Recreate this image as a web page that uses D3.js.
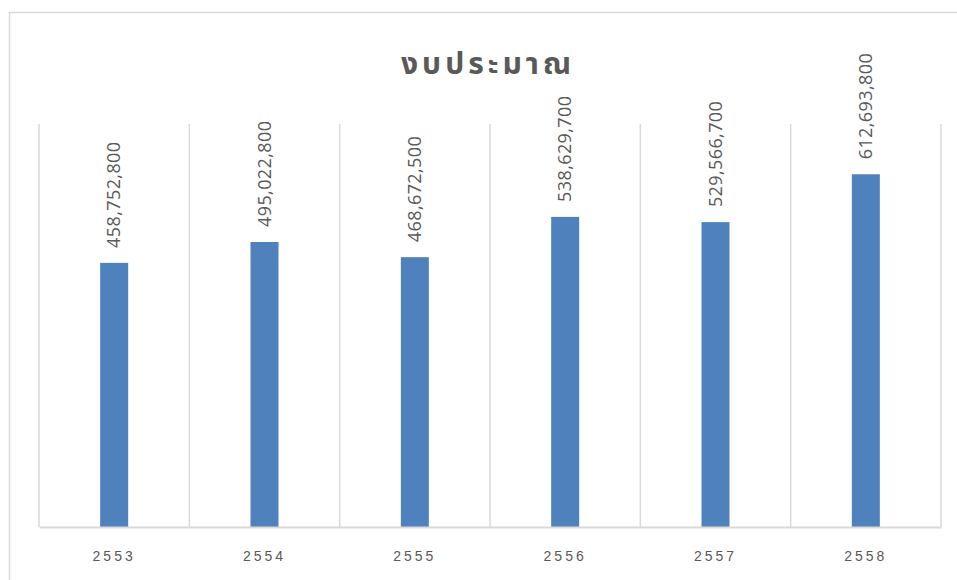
<!DOCTYPE html>
<html>
<head>
<meta charset="utf-8">
<script src="https://cdn.jsdelivr.net/npm/d3@7"></script>
<style>
  html, body { margin: 0; padding: 0; background: #fff; }
  svg { display: block; }
</style>
</head>
<body>
<svg id="chart" width="957" height="580"></svg>
<script>
// Budget per fiscal year (Thai Buddhist calendar)
const years = ["2553", "2554", "2555", "2556", "2557", "2558"];
const budget = [458752800, 495022800, 468672500, 538629700, 529566700, 612693800];
const titleText = "งบประมาณ";

const svg = d3.select("#chart");
const W = 957, H = 580;
const plot = { left: 39, right: 941, top: 124, bottom: 527 };

// outer chart frame
svg.append("rect")
  .attr("x", 9.5).attr("y", 12.5)
  .attr("width", W + 10).attr("height", H + 10)
  .attr("fill", "#fff")
  .attr("stroke", "#d9d9d9").attr("stroke-width", 1.5);

const x = d3.scaleBand().domain(years).range([plot.left, plot.right]).paddingInner(0).paddingOuter(0);
const y = d3.scaleLinear().domain([0, 700000000]).range([plot.bottom, plot.top]);

// vertical category separators
const bounds = years.map(d => x(d)).concat([plot.right]);
svg.append("g").selectAll("line").data(bounds).join("line")
  .attr("x1", d => d).attr("x2", d => d)
  .attr("y1", plot.top).attr("y2", plot.bottom)
  .attr("stroke", "#d9d9d9").attr("stroke-width", 1.5);

// bars
const barW = 28;
svg.append("g").selectAll("rect").data(years).join("rect")
  .attr("x", (d) => x(d) + x.bandwidth() / 2 - barW / 2)
  .attr("width", barW)
  .attr("y", (d, i) => y(budget[i]))
  .attr("height", (d, i) => y(0) - y(budget[i]))
  .attr("fill", "#4f81bd");

// baseline axis
const xAxis = d3.axisBottom(x).tickSize(0).tickPadding(24);
const ax = svg.append("g").attr("transform", `translate(0,${plot.bottom})`).call(xAxis);
ax.select(".domain").attr("stroke", "#d9d9d9").attr("stroke-width", 2);
ax.selectAll("text")
  .attr("fill", "#595959")
  .style("font-family", "'Liberation Sans', Arial, sans-serif")
  .style("font-size", "14px")
  .style("letter-spacing", "3px");

// rotated value labels
const fmt = d3.format(",");
svg.append("g").selectAll("text").data(years).join("text")
  .attr("transform", (d, i) => `translate(${x(d) + x.bandwidth() / 2 + 6},${y(budget[i]) - 15}) rotate(-90)`)
  .attr("text-anchor", "start")
  .attr("fill", "#595959")
  .style("font-family", "'Open Sans', sans-serif")
  .style("font-size", "18px")
  .style("letter-spacing", "0.4px")
  .text((d, i) => fmt(budget[i]));

// title
svg.append("text")
  .attr("x", (plot.left + plot.right) / 2 - 2)
  .attr("y", 74)
  .attr("text-anchor", "middle")
  .attr("fill", "#595959")
  .style("font-family", "'Noto Sans Thai', 'Noto Sans', sans-serif")
  .style("font-size", "30px")
  .style("font-weight", "bold")
  .style("letter-spacing", "4px")
  .text(titleText);
</script>
</body>
</html>
